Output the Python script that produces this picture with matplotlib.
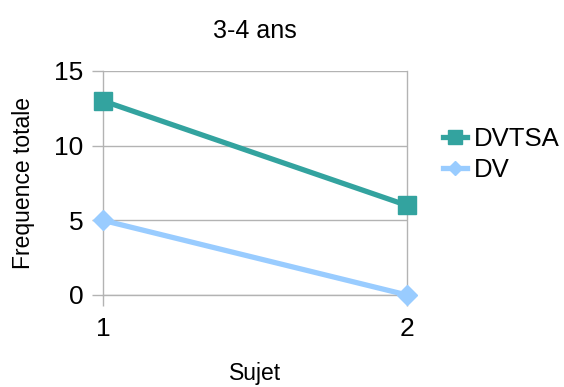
import matplotlib.pyplot as plt

plt.rcParams['font.family'] = ['Liberation Sans', 'DejaVu Sans']

sujets = [1, 2]
dvtsa = [13, 6]
dv = [5, 0]

fig = plt.figure(figsize=(5.64, 3.87), dpi=100)
ax = fig.add_axes([103 / 564, 1 - 295 / 387, 304 / 564, 224 / 387])

ax.plot(sujets, dvtsa, color="#33a39f", lw=3.8, marker="s", ms=13,
        label="DVTSA", clip_on=False, zorder=4)
ax.plot(sujets, dv, color="#99ccff", lw=3.8, marker="D", ms=10,
        label="DV", clip_on=False, zorder=3)

ax.set_xlim(1, 2)
ax.set_ylim(0, 15)
ax.set_xticks([1, 2])
ax.set_yticks([0, 5, 10, 15])
ax.grid(axis="y", color="#b3b3b3", lw=1)
ax.set_axisbelow(True)
for s in ax.spines.values():
    s.set_color("#b3b3b3")
    s.set_linewidth(1)
ax.spines["top"].set_visible(False)
ax.tick_params(colors="#b3b3b3", labelcolor="black", length=8, width=1,
               labelsize=19)
ax.tick_params(axis="x", pad=8)
ax.tick_params(axis="y", pad=6)

ax.set_title("3-4 ans", fontsize=18, pad=24)
ax.set_xlabel("Sujet", fontsize=16.5)
ax.set_ylabel("Frequence totale", fontsize=16.5)
ax.xaxis.set_label_coords(0.5, -0.30)
ax.yaxis.set_label_coords(-0.225, 0.5)

ax.legend(loc="center left", bbox_to_anchor=(1.12, 0.627), frameon=False,
          fontsize=18.5, handlelength=0.9, handletextpad=0.3,
          labelspacing=0.3, borderaxespad=0, borderpad=0,
          markerscale=0.75)

fig.savefig("out.png", dpi=100)
